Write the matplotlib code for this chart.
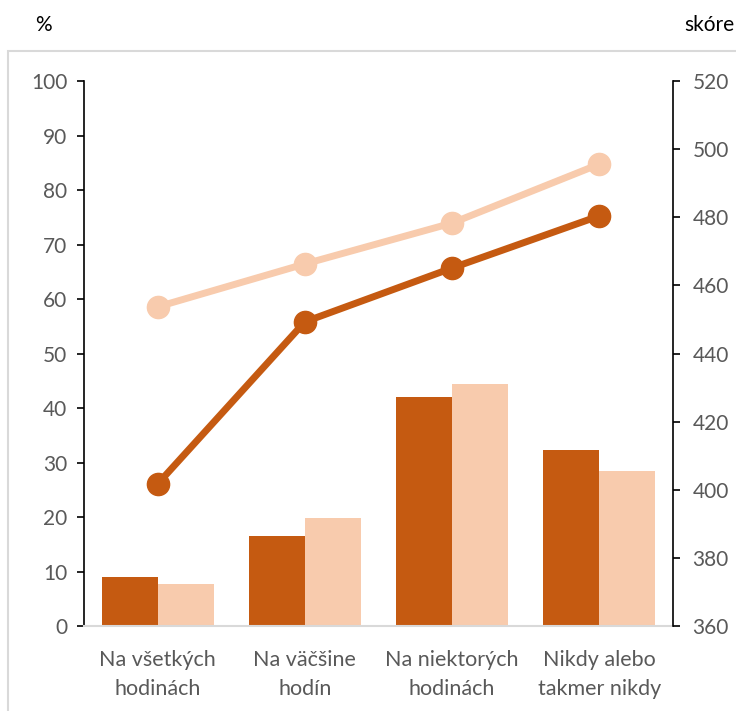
import matplotlib.pyplot as plt
from matplotlib.patches import Rectangle
import numpy as np

plt.rcParams['font.family'] = ['Lato', 'DejaVu Sans']

categories = ["Na všetkých\nhodinách", "Na väčšine\nhodín", "Na niektorých\nhodinách", "Nikdy alebo\ntakmer nikdy"]
share_a = [9.0, 16.5, 42.0, 32.3]
share_b = [7.7, 19.8, 44.4, 28.4]
score_a = [401.7, 449.3, 465.1, 480.4]
score_b = [453.7, 466.3, 478.3, 495.6]
left_ticks = list(range(0, 101, 10))
right_ticks = list(range(360, 521, 20))

dark = "#C55A11"
light = "#F8CBAD"
grey = "#595959"
fs = 15

fig = plt.figure(figsize=(7.36, 7.11), dpi=100)
W, H = 736, 711
ax = fig.add_axes([84 / W, 1 - 626 / H, (673 - 84) / W, (626 - 81) / H])

# outer frame
fig.patches.append(Rectangle((8 / W, -0.01), 1.0, 1 - 51 / H + 0.01, transform=fig.transFigure,
                             fill=False, edgecolor="#D9D9D9", linewidth=1.5, zorder=0))

x = np.arange(len(categories))
bw = 0.38
ax.bar(x - bw / 2, share_a, width=bw, color=dark, zorder=2)
ax.bar(x + bw / 2, share_b, width=bw, color=light, zorder=2)

ax.set_xlim(-0.5, len(categories) - 0.5)
ax.set_ylim(0, 100)
ax.set_yticks(left_ticks)
ax.set_xticks(x)
ax.set_xticklabels(categories, linespacing=1.6)
ax.tick_params(axis='x', length=0, pad=17, labelsize=15.5, labelcolor=grey)
ax.tick_params(axis='y', length=5, width=1.2, labelsize=fs, labelcolor=grey, pad=7)
for s in ["top", "right"]:
    ax.spines[s].set_visible(False)
ax.spines["bottom"].set_color("#D9D9D9")
ax.spines["bottom"].set_linewidth(1.5)
ax.spines["left"].set_linewidth(1.2)

ax2 = ax.twinx()
ax2.set_ylim(360, 520)
ax2.set_yticks(right_ticks)
ax2.tick_params(axis='y', length=5, width=1.2, labelsize=fs, labelcolor=grey, pad=9)
for s in ["top", "left", "bottom"]:
    ax2.spines[s].set_visible(False)
ax2.spines["right"].set_linewidth(1.2)
ax2.plot(x, score_b, color=light, linewidth=5, marker="o", markersize=16, zorder=3)
ax2.plot(x, score_a, color=dark, linewidth=5, marker="o", markersize=16, zorder=4)

fig.text(43 / W, 1 - 25 / H, "%", ha="center", va="center", fontsize=fs, color="black")
fig.text(734 / W, 1 - 25 / H, "skóre", ha="right", va="center", fontsize=fs, color="black")

fig.savefig("out.png", dpi=100)
